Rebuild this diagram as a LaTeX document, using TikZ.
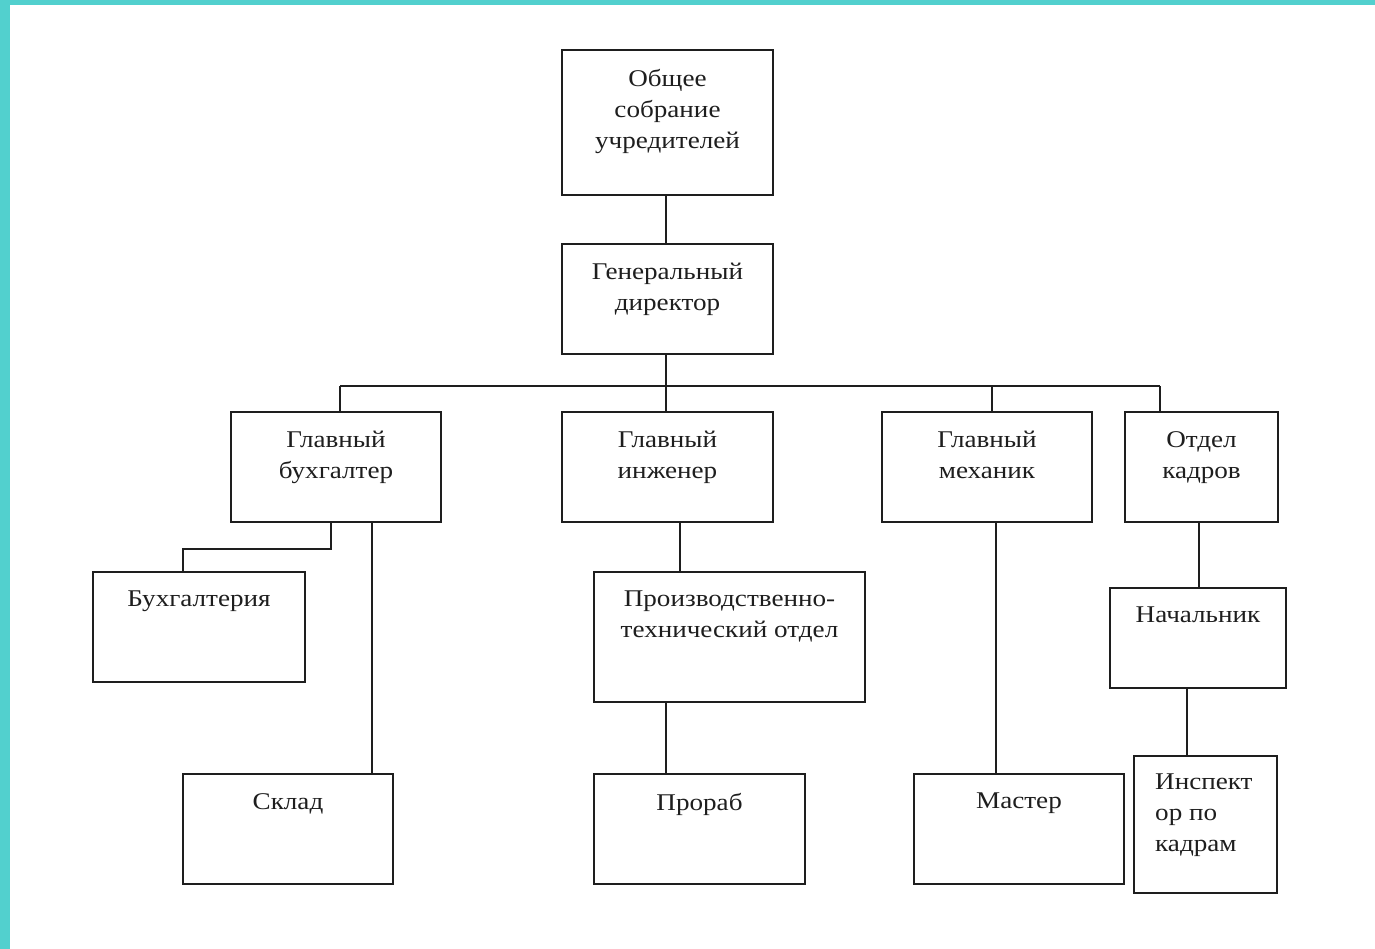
\documentclass[tikz,border=0pt]{standalone}
\usepackage{fontspec}
\setmainfont{Liberation Serif}[FakeStretch=1.13]
\definecolor{teal1}{RGB}{82,208,206}
\definecolor{ink}{RGB}{30,30,30}
\tikzset{
  orgbox/.style={draw=ink, line width=2pt, rectangle, inner sep=0pt},
  lbl/.style={font=\fontsize{24}{31}\selectfont, text=ink, align=center, anchor=north, inner sep=0pt},
  conn/.style={draw=ink, line width=2pt},
}
\newcommand{\obox}[6]{% name, x1, y1, x2, y2, text
  \node[orgbox, minimum width={#4-#2}, minimum height={#5-#3}] (#1) at ({(#2+#4)/2},{-(#3+#5)/2}) {};
  \node[lbl] (#1t) at ({(#2+#4)/2},{-#3-19}) {#6};
}
\begin{document}
\begin{tikzpicture}[x=1pt,y=1pt]
\fill[teal1] (0,0) rectangle (1375,-949);
\fill[white] (10,-5) rectangle (1375,-949);
\useasboundingbox (0,0) rectangle (1375,-949);

\obox{a}{562}{50}{773}{195}{Общее\\собрание\\учредителей}
\obox{b}{562}{244}{773}{354}{Генеральный\\директор}
\obox{c}{231}{412}{441}{522}{Главный\\бухгалтер}
\obox{d}{562}{412}{773}{522}{Главный\\инженер}
\obox{e}{882}{412}{1092}{522}{Главный\\механик}
\obox{f}{1125}{412}{1278}{522}{Отдел\\кадров}
\obox{g}{93}{572}{305}{682}{Бухгалтерия}
\obox{h}{594}{572}{865}{702}{Производственно-\\технический отдел}
\obox{i}{1110}{588}{1286}{688}{Начальник}
\obox{j}{183}{774}{393}{884}{Склад}
\obox{k}{594}{774}{805}{884}{Прораб}
\obox{l}{914}{774}{1124}{884}{Мастер}
\node[orgbox, minimum width=143, minimum height=137] (m) at (1205.5,-824.5) {};
\node[lbl, align=left, anchor=north west] (mt) at (1155,-774) {Инспект\\ор по\\кадрам};

\coordinate (bus) at (666,-386);
\draw[conn] (a.south -| 666,0) -- (b.north -| 666,0);
\draw[conn] (b.south -| 666,0) -- (bus);
\draw[conn] (bus -| 340,0) -- (bus -| 1160,0);
\draw[conn] (bus -| 340,0) -- (c.north -| 340,0);
\draw[conn] (bus) -- (d.north -| 666,0);
\draw[conn] (bus -| 992,0) -- (e.north -| 992,0);
\draw[conn] (bus -| 1160,0) -- (f.north -| 1160,0);
\draw[conn] (c.south -| 331,0) -- (331,-549) -- (183,-549) -- (g.north -| 183,0);
\draw[conn] (c.south -| 372,0) -- (j.north -| 372,0);
\draw[conn] (d.south -| 680,0) -- (h.north -| 680,0);
\draw[conn] (h.south -| 666,0) -- (k.north -| 666,0);
\draw[conn] (e.south -| 996,0) -- (l.north -| 996,0);
\draw[conn] (f.south -| 1199,0) -- (i.north -| 1199,0);
\draw[conn] (i.south -| 1187,0) -- (m.north -| 1187,0);
\end{tikzpicture}
\end{document}
